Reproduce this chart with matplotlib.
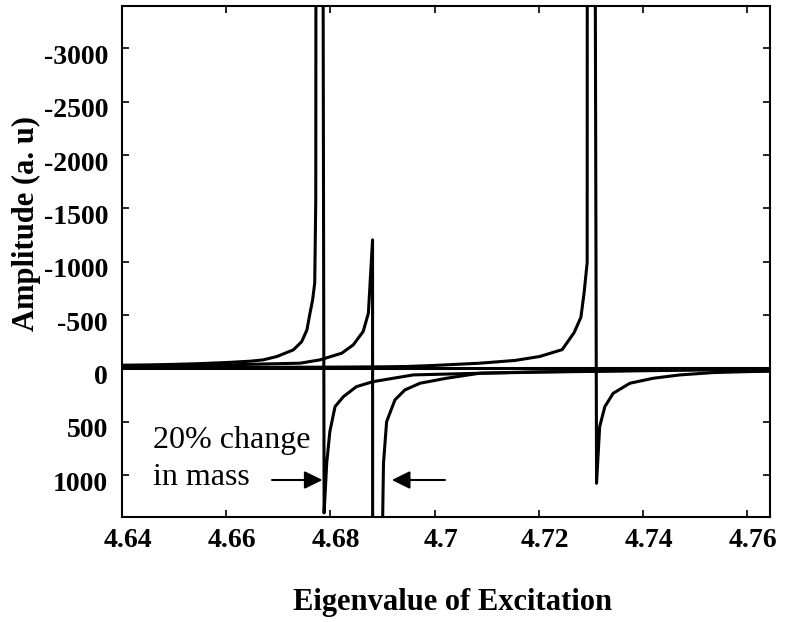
import matplotlib
matplotlib.use("Agg")
import matplotlib.pyplot as plt
from matplotlib.transforms import ScaledTranslation

plt.rcParams['font.family'] = ['Liberation Serif', 'DejaVu Serif']
plt.rcParams['axes.unicode_minus'] = False

# curve A : first resonance (original mass)
xA = [4.640, 4.645, 4.650, 4.655, 4.660, 4.6647, 4.6671, 4.6697, 4.6729, 4.6745,
      4.6755, 4.6761, 4.6766, 4.6770, 4.6772, 4.6776, 4.6788, 4.6793, 4.6799, 4.6809,
      4.6825, 4.6850, 4.6882, 4.6959, 4.7087, 4.720, 4.730, 4.740, 4.750, 4.7644]
yA = [-30, -33, -38, -45, -55, -68, -80, -111, -174, -251,
      -361, -520, -643, -802, -1580, -30000, 1355, 889, 593, 358,
      265, 171, 124, 61, 45, 35, 28, 22, 15, 10]

# curve B : resonance after 20% change in mass
xB = [4.640, 4.650, 4.660, 4.666, 4.6742, 4.6780, 4.6822, 4.6844, 4.6863, 4.6873,
      4.6881, 4.6883, 4.6897, 4.6902, 4.6908, 4.6924, 4.6943, 4.6972, 4.7023, 4.7087,
      4.720, 4.730, 4.740, 4.750, 4.7644]
yB = [-20, -25, -33, -40, -49, -80, -143, -221, -346, -518,
      -1205, 30000, 2500, 889, 499, 295, 202, 139, 92, 45,
      32, 25, 18, 12, 8]

# curve C : third resonance
xC = [4.640, 4.660, 4.680, 4.690, 4.6946, 4.700, 4.7087, 4.7155, 4.7202, 4.7245,
      4.7268, 4.7281, 4.7287, 4.7293, 4.7295, 4.7311, 4.7317, 4.7327, 4.7343, 4.7375,
      4.7420, 4.7471, 4.7535, 4.760, 4.7644]
yC = [-8, -10, -12, -15, -18, -28, -49, -75, -112, -176,
      -336, -480, -704, -992, -30000, 1077, 546, 358, 233, 139,
      92, 61, 39, 30, 27]

xticks = [4.64, 4.66, 4.68, 4.70, 4.72, 4.74, 4.76]
xtick_labels = ["4.64", "4.66", "4.68", "4.7", "4.72", "4.74", "4.76"]
yticks = [-3000, -2500, -2000, -1500, -1000, -500, 0, 500, 1000]
ytick_labels = ["-3000", "-2500", "-2000", "-1500", "-1000", "-500", "0", "500", "1000"]

fig = plt.figure(figsize=(7.85, 6.22), dpi=100)
ax = fig.add_axes([0.1554, 0.1693, 0.8255, 0.8215])

ax.axhline(0, color='k', lw=2.2)
for xs, ys in [(xA, yA), (xB, yB), (xC, yC)]:
    ax.plot(xs, ys, color='k', lw=2.2, solid_joinstyle='round')

ax.set_xlim(4.64, 4.7644)
ax.set_ylim(1390, -3400)

ax.set_xticks(xticks)
ax.set_xticklabels(xtick_labels, fontsize=20, fontweight='bold')
ax.set_yticks(yticks)
ax.set_yticklabels(ytick_labels, fontsize=20, fontweight='bold')
ax.tick_params(direction='in', top=True, right=True, length=5, width=1.2)
ax.tick_params(axis='x', pad=8)
ax.tick_params(axis='y', pad=10)
for s in ax.spines.values():
    s.set_linewidth(1.5)

# small label offsets as in the original
for lab in ax.get_xticklabels():
    lab.set_transform(lab.get_transform() + ScaledTranslation(0.06, 0, fig.dpi_scale_trans))
for lab in ax.get_yticklabels():
    lab.set_transform(lab.get_transform() + ScaledTranslation(0, -0.06, fig.dpi_scale_trans))

fig.text(453 / 785, 1 - 610 / 622, "Eigenvalue of Excitation", fontsize=22,
         fontweight='bold', ha='center', va='baseline')
fig.text(26 / 785, 1 - 223 / 622, "Amplitude (a. u)", fontsize=22,
         fontweight='bold', rotation=90, ha='center', va='center')

ax.text(4.6460, 746, "20% change", fontsize=23, va='baseline', ha='left')
ax.text(4.6460, 1093, "in mass", fontsize=23, va='baseline', ha='left')

arrow = dict(arrowstyle='-|>,head_length=0.55,head_width=0.27', color='k', lw=1.5,
             mutation_scale=20, shrinkA=0, shrinkB=0)
ax.annotate('', xy=(4.6785, 1046), xytext=(4.6688, 1046), arrowprops=arrow)
ax.annotate('', xy=(4.6918, 1046), xytext=(4.7020, 1046), arrowprops=arrow)

fig.savefig("out.png", dpi=100)
